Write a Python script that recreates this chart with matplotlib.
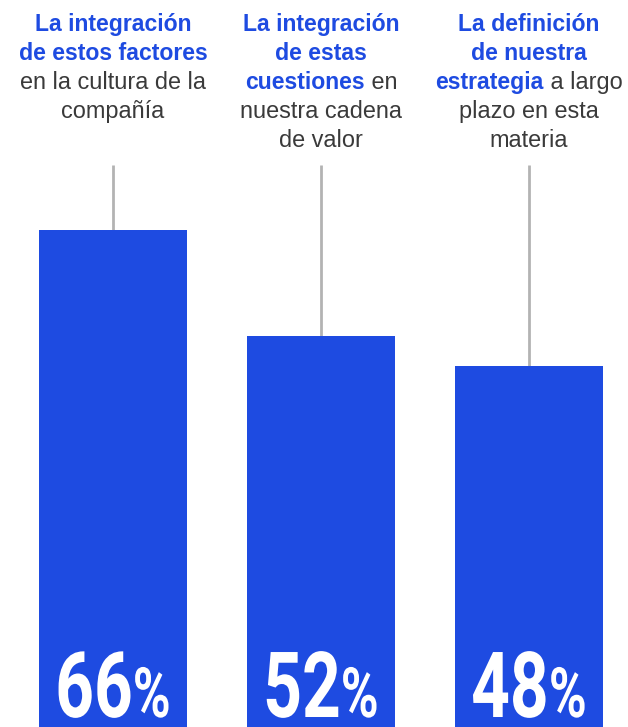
import matplotlib
matplotlib.use("Agg")
import matplotlib.pyplot as plt
from matplotlib.patheffects import AbstractPathEffect
from matplotlib.transforms import Affine2D

# ---- data ----
categories = ["La integración de estos factores en la cultura de la compañía",
              "La integración de estas cuestiones en nuestra cadena de valor",
              "La definición de nuestra estrategia a largo plazo en esta materia"]
values = [66, 52, 48]
value_labels = ["66", "52", "48"]
# label lines: list of (text, bold?) segments per line
label_lines = [
    [[("La integración", True)], [("de estos factores", True)],
     [("en la cultura de la", False)], [("compañía", False)]],
    [[("La integración", True)], [("de estas", True)],
     [("cuestiones", True), (" en", False)], [("nuestra cadena", False)], [("de valor", False)]],
    [[("La definición", True)], [("de nuestra", True)],
     [("estrategia", True), (" a largo", False)], [("plazo en esta", False)], [("materia", False)]],
]

BLUE = "#1e4be1"
GRAY_TXT = "#3a3a3a"
LINE = "#b3b3b3"
W, H = 628, 727


class HScale(AbstractPathEffect):
    """Horizontally condense a text around a given display x."""
    def __init__(self, sx, cx):
        super().__init__()
        self.sx = sx
        self.cx = cx

    def draw_path(self, renderer, gc, tpath, affine, rgbFace=None):
        aff = affine + Affine2D().translate(-self.cx, 0).scale(self.sx, 1).translate(self.cx, 0)
        renderer.draw_path(gc, tpath, aff, rgbFace)


fig = plt.figure(figsize=(W / 100, H / 100), dpi=100)
ax = fig.add_axes([0, 0, 1, 1])
ax.set_xlim(-113 / 208, (W - 113) / 208)
ax.set_ylim(0, H / 7.525)
ax.axis("off")

xs = list(range(len(values)))
ax.bar(xs, values, width=148 / 208, color=BLUE, zorder=2)
top_line = (H - 165) / 7.525
ax.vlines(xs, values, top_line, color=LINE, lw=2.0, zorder=1)

fig.canvas.draw()
r = fig.canvas.get_renderer()
fam = ["Liberation Sans", "DejaVu Sans"]


def px2fig_y(py):
    return 1 - py / H


# labels
baselines = [31, 60, 89, 118, 147]
for i, lines in enumerate(label_lines):
    cx_px = 113 + 208 * i
    for li, segs in enumerate(lines):
        texts = []
        for s, b in segs:
            t = fig.text(0, px2fig_y(baselines[li]), s, fontsize=16.6 if b else 16.9,
                         family=fam, fontweight="bold" if b else "normal",
                         color=BLUE if b else GRAY_TXT, va="baseline", ha="left")
            texts.append(t)
        widths = [t.get_window_extent(r).width for t in texts]
        x = cx_px - sum(widths) / 2
        for t, w in zip(texts, widths):
            t.set_x(x / W)
            x += w

# value labels at bottom of bars (condensed look)
SX = 0.74
num_fam = ["Roboto", "DejaVu Sans"]
for i, lab in enumerate(value_labels):
    cx_px = 113 + 208 * i
    t1 = fig.text(0, px2fig_y(717), lab, fontsize=65.8, family=num_fam,
                  fontweight="bold", color="white", va="baseline", ha="left")
    t2 = fig.text(0, px2fig_y(717), "%", fontsize=50, family=num_fam,
                  fontweight="bold", color="white", va="baseline", ha="left")
    w1 = t1.get_window_extent(r).width * SX
    w2 = t2.get_window_extent(r).width * SX
    x = cx_px - (w1 + w2) / 2
    t1.set_x(x / W)
    t2.set_x((x + w1) / W)
    t1.set_path_effects([HScale(SX, x)])
    t2.set_path_effects([HScale(SX, x + w1)])

fig.savefig("out.png", dpi=100)
